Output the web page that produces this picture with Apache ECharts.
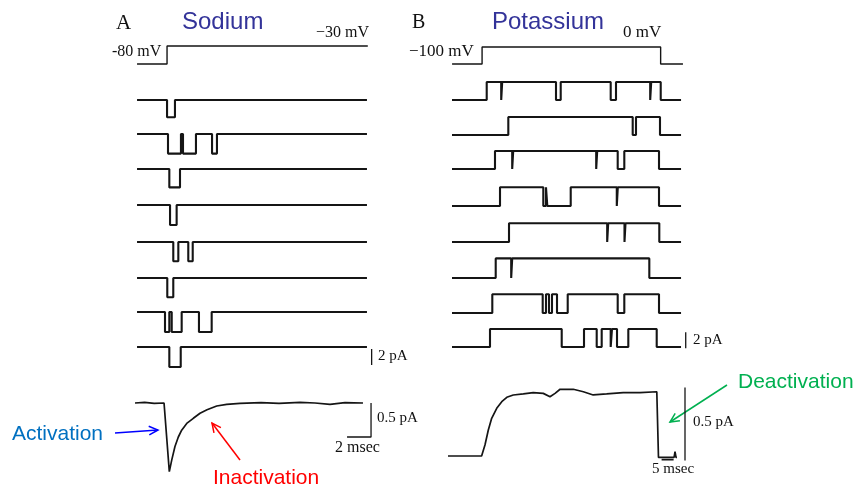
<!DOCTYPE html>
<html><head><meta charset="utf-8">
<script src="https://cdn.jsdelivr.net/npm/echarts@6/dist/echarts.min.js"></script>
<style>html,body{margin:0;padding:0;background:#fff}#c{width:858px;height:489px}</style>
</head><body><div id="c"></div>
<script>
// ---------------- DATA ----------------
// Voltage protocols (time ms, membrane potential mV)
const naVoltT  = [0.17, 2.67, 2.67, 19.4];
const naVoltMV = [-80, -80, -30, -30];
const kVoltT   = [1.7, 14.2, 14.2, 88.6, 88.6, 97.9];
const kVoltMV  = [-100, -100, 0, 0, -100, -100];

// Sodium single-channel sweeps: opening / closing times (ms), pairs
const naSweepStart = 0.17, naSweepEnd = 19.33;
const naOpenCurrent = [-2.15, -2.45, -2.3, -2.5, -2.4, -2.4, -2.5, -2.5]; // pA
const naEvents = [
  [2.67, 3.33],
  [2.75, 3.83, 4.0, 5.08, 6.42, 6.83],
  [2.86, 3.75],
  [2.92, 3.47],
  [3.19, 3.61, 4.44, 4.81],
  [2.69, 3.19],
  [2.5, 2.86, 3.06, 3.89, 5.33, 6.39],
  [2.86, 3.81]
];

// Potassium single-channel sweeps
const kSweepStart = 1.67, kSweepEnd = 97.1;
const kOpenCurrent = [2.25, 2.25, 2.25, 2.35, 2.35, 2.45, 2.35, 2.25]; // pA
const kEvents = [
  [16.13, 22.17, 22.58, 45.0, 46.96, 67.79, 70.0, 84.25, 84.67, 88.63],
  [25.13, 76.96, 78.33, 88.33],
  [19.58, 26.75, 27.17, 61.75, 62.17, 70.71, 73.46, 87.92],
  [21.67, 39.71, 40.83, 41.38, 51.13, 70.33, 70.75, 87.92],
  [25.42, 66.33, 66.75, 73.54, 73.96, 88.04],
  [19.88, 26.33, 26.75, 83.88],
  [18.46, 39.46, 40.83, 42.08, 43.33, 45.42, 49.88, 70.71, 73.46, 87.92],
  [17.5, 47.38, 56.67, 61.96, 64.04, 67.79, 68.33, 70.42, 75.13, 86.96]
];

// Ensemble averages
const naEnsT = [0.0, 0.8, 1.6, 2.42, 2.86, 3.06, 3.33, 3.61, 3.89, 4.31, 4.86, 5.42, 6.0, 6.81, 7.64, 8.75, 10.5, 12.0, 13.75, 15.0, 16.25, 17.5, 19.0];
const naEnsI = [0, 0.01, -0.005, 0, -1.01, -0.84, -0.64, -0.5, -0.4, -0.3, -0.225, -0.15, -0.1, -0.044, -0.02, -0.005, 0.005, -0.005, 0.01, 0, -0.02, 0.005, 0];
const kEnsT = [0, 14.0, 15.4, 16.8, 18.2, 20.3, 22.4, 24.5, 27.2, 31.4, 35.5, 39.7, 42.5, 44.6, 46.7, 52.2, 56.4, 60.5, 66.1, 73.0, 80.0, 87.0, 87.6, 87.7, 94.2, 94.6, 95.0, 95.4];
const kEnsI = [0, 0, 0.075, 0.178, 0.258, 0.327, 0.372, 0.402, 0.418, 0.425, 0.434, 0.429, 0.406, 0.429, 0.457, 0.457, 0.44, 0.418, 0.425, 0.434, 0.434, 0.44, 0.44, -0.01, -0.01, 0.03, -0.01, -0.01];

// Scale bars (lengths)
const naSingleBarPA = 2, kSingleBarPA = 2;
const naEnsBarPA = 0.5, naEnsBarMS = 2;
const kEnsBarPA = 0.5, kEnsBarMS = 5;

// ---------------- LAYOUT ----------------
const NAX = {left: 135, width: 240, min: 0, max: 20};
const KX  = {left: 448, width: 240, min: 0, max: 100};
const naBase = [100, 134, 169, 205, 242, 278, 312, 347];
const kBase  = [100, 135, 169, 206, 242, 278, 313, 347];
const INK = '#151515';

const grids = [], xAxes = [], yAxes = [], series = [];
function addGrid(X, top, height, ymin, ymax) {
  const i = grids.length;
  grids.push({left: X.left, width: X.width, top: top, height: height, containLabel: false});
  xAxes.push({gridIndex: i, type: 'value', min: X.min, max: X.max, show: false});
  yAxes.push({gridIndex: i, type: 'value', min: ymin, max: ymax, show: false});
  return i;
}
function addLine(gi, data, w) {
  series.push({type: 'line', xAxisIndex: gi, yAxisIndex: gi, data: data, showSymbol: false,
    symbol: 'none', lineStyle: {color: INK, width: w || 1.6}, silent: true, animation: false});
}
const zip = (a, b) => a.map((v, i) => [v, b[i]]);
function stepData(start, end, ev, open) {
  const d = [[start, 0]];
  for (let i = 0; i < ev.length; i += 2) {
    d.push([ev[i], 0], [ev[i], open], [ev[i + 1], open], [ev[i + 1], 0]);
  }
  d.push([end, 0]);
  return d;
}

// voltage grids
let g = addGrid(NAX, 42.4, 25.2, -90, -20);
addLine(g, zip(naVoltT, naVoltMV), 1.4);
g = addGrid(KX, 45.3, 20.4, -110, 10);
addLine(g, zip(kVoltT, kVoltMV), 1.4);

// sodium sweeps (8 px per pA)
let naLast, kLast;
naEvents.forEach((ev, i) => {
  const gi = addGrid(NAX, naBase[i] - 8, 32, -3, 1);
  addLine(gi, stepData(naSweepStart, naSweepEnd, ev, naOpenCurrent[i]), 2.1);
  naLast = gi;
});
kEvents.forEach((ev, i) => {
  const gi = addGrid(KX, kBase[i] - 24, 32, -1, 3);
  addLine(gi, stepData(kSweepStart, kSweepEnd, ev, kOpenCurrent[i]), 2.1);
  kLast = gi;
});
// single-channel scale bars
addLine(naLast, [[19.72, -0.25], [19.72, -0.25 - naSingleBarPA]], 1.3);
addLine(kLast, [[99.05, -0.16], [99.05, -0.16 + kSingleBarPA]], 1.3);

// ensembles
g = addGrid(NAX, 403 - 0.3 * 68, 1.5 * 68, -1.2, 0.3);
addLine(g, zip(naEnsT, naEnsI), 1.7);
addLine(g, [[19.67 - naEnsBarMS, -naEnsBarPA], [19.67, -naEnsBarPA], [19.67, 0]], 1.3);
g = addGrid(KX, 456 - 0.6 * 146, 0.7 * 146, -0.1, 0.6);
addLine(g, zip(kEnsT, kEnsI), 1.7);
addLine(g, [[98.75, -0.03], [98.75, -0.03 + kEnsBarPA]], 1.3);
addLine(g, [[89.0, -0.025], [89.0 + kEnsBarMS, -0.025]], 1.6);

// ---------------- TEXT & ARROWS ----------------
const SERIF = '"Liberation Serif", "DejaVu Serif", serif';
const SANS = '"Liberation Sans", Arial, sans-serif';
function txt(t, x, y, size, fam, color, align) {
  return {type: 'text', x: x, y: y, silent: true,
    style: {text: t, font: size + 'px ' + fam, fill: color, textAlign: align || 'left', textVerticalAlign: 'middle'}};
}
function arrow(x1, y1, x2, y2, color) {
  const a = Math.atan2(y2 - y1, x2 - x1), L = 10, h = 0.45;
  const p1 = [x2 - L * Math.cos(a - h), y2 - L * Math.sin(a - h)];
  const p2 = [x2 - L * Math.cos(a + h), y2 - L * Math.sin(a + h)];
  return [
    {type: 'line', silent: true, shape: {x1: x1, y1: y1, x2: x2, y2: y2}, style: {stroke: color, lineWidth: 1.5}},
    {type: 'polyline', silent: true, shape: {points: [p1, [x2, y2], p2]}, style: {stroke: color, lineWidth: 1.5, fill: null}}
  ];
}
const graphics = [
  txt('A', 116, 23, 21, SERIF, '#111'),
  txt('Sodium', 182, 22, 24, SANS, '#333399'),
  txt('B', 412, 23, 20, SERIF, '#111'),
  txt('Potassium', 492, 22, 24, SANS, '#333399'),
  txt('\u221230 mV', 369, 33, 16, SERIF, '#111', 'right'),
  txt('-80 mV', 112, 52, 16, SERIF, '#111'),
  txt('\u2212100 mV', 409, 52, 17, SERIF, '#111'),
  txt('0 mV', 623, 33, 17, SERIF, '#111'),
  txt('2 pA', 378, 356, 15, SERIF, '#111'),
  txt('2 pA', 693, 340, 15, SERIF, '#111'),
  txt('0.5 pA', 377, 418, 15, SERIF, '#111'),
  txt('2 msec', 335, 448, 16, SERIF, '#111'),
  txt('0.5 pA', 693, 422, 15, SERIF, '#111'),
  txt('5 msec', 652, 469, 15, SERIF, '#111'),
  txt('Activation', 12, 434, 21, SANS, '#0070C0'),
  txt('Inactivation', 213, 478, 21, SANS, '#FF0000'),
  txt('Deactivation', 738, 382, 21, SANS, '#00B050')
].concat(arrow(115, 433, 158, 430, '#0000FF'))
 .concat(arrow(240, 460, 212, 423, '#FF0000'))
 .concat(arrow(727, 385, 670, 422, '#00B050'));

const chart = echarts.init(document.getElementById('c'), null, {renderer: 'canvas'});
chart.setOption({
  animation: false,
  backgroundColor: '#fff',
  grid: grids, xAxis: xAxes, yAxis: yAxes, series: series,
  graphic: graphics
});
</script></body></html>
